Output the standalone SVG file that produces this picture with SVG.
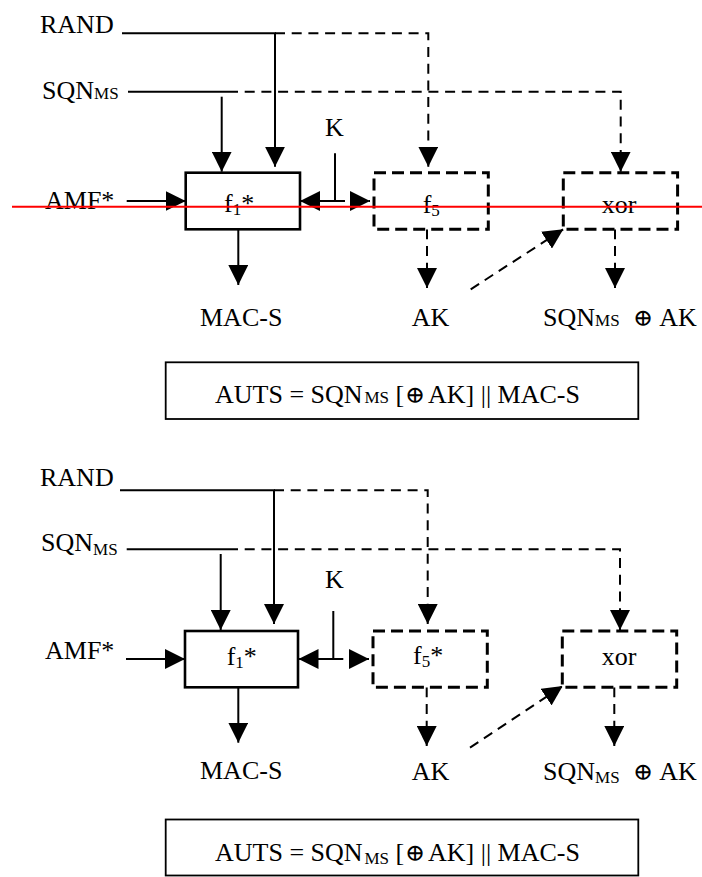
<svg xmlns="http://www.w3.org/2000/svg" width="702" height="877" viewBox="0 0 702 877">
<style>
text{font-family:"Liberation Serif","DejaVu Serif",serif;font-size:26px;fill:#000}
.sub{font-size:17px}
.op{font-family:"DejaVu Serif","Liberation Serif",serif;font-size:24px}
.c{fill:none;stroke:#000;stroke-width:2}
.d{stroke-dasharray:10 6.7}
.box{fill:#fff;stroke:#000;stroke-width:2.6}
.dbox{fill:#fff;stroke:#000;stroke-width:3;stroke-dasharray:12 6}
.res{fill:#fff;stroke:#000;stroke-width:1.8}
</style>
<defs>
<marker id="ah" viewBox="0 0 20 20" markerWidth="20" markerHeight="20" refX="20" refY="10" orient="auto" markerUnits="userSpaceOnUse"><path d="M0,0 L20,10 L0,20 Z" fill="#000"/></marker>
</defs>

<!-- TOP DIAGRAM -->
<g id="top-connectors">
<path class="c" d="M122,33.3 H275 V166.7" marker-end="url(#ah)"/>
<path class="c d" d="M275,33.3 H428.3 V166.7" marker-end="url(#ah)"/>
<path class="c" d="M128,91.7 H228"/>
<path class="c" d="M221.7,96.7 V171.7" marker-end="url(#ah)"/>
<path class="c d" d="M228,91.7 H620.7 V171.7" marker-end="url(#ah)"/>
<path class="c" d="M335,153.3 V201 H300" marker-end="url(#ah)"/>
<path class="c d" d="M335,201 H370" marker-end="url(#ah)"/>
<path class="c" d="M126.7,201 H185.7" marker-end="url(#ah)"/>
<path class="c" d="M238.3,229.3 V285" marker-end="url(#ah)"/>
<path class="c d" d="M427,229.3 V288" marker-end="url(#ah)"/>
<path class="c d" d="M615,229.3 V288" marker-end="url(#ah)"/>
<path class="c d" d="M470.7,289.3 L563.3,229.3" marker-end="url(#ah)"/>
</g>
<g id="top-rand"><text x="40" y="33.3">RAND</text></g>
<g id="top-sqn"><text x="42" y="99">SQN<tspan class="sub">MS</tspan></text></g>
<g id="top-k"><text x="325" y="136">K</text></g>
<g id="top-amf"><text x="45" y="208.5">AMF*</text></g>
<g id="top-f1"><rect class="box" x="185.7" y="172.7" width="114.3" height="56.6"/><text x="224" y="212">f<tspan class="sub" dy="3">1</tspan><tspan dy="-3">*</tspan></text></g>
<g id="top-f5"><rect class="dbox" x="374" y="172.7" width="114.3" height="56.6"/><text x="422.7" y="213">f<tspan class="sub" dy="3">5</tspan></text></g>
<g id="top-xor"><rect class="dbox" x="563.3" y="172.7" width="114.3" height="56.6"/><text x="601.7" y="213">xor</text></g>
<g id="top-macs"><text x="200" y="326">MAC-S</text></g>
<g id="top-ak"><text x="411.7" y="326">AK</text></g>
<g id="top-sqnak"><text x="543" y="326">SQN<tspan class="sub">MS</tspan><tspan class="op" x="633">⊕</tspan><tspan x="659.3">AK</tspan></text></g>
<g id="top-auts"><rect class="res" x="165.7" y="362.3" width="472.6" height="56.7"/><text x="215" y="402.7">AUTS = SQN<tspan class="sub" x="364.5">MS</tspan><tspan x="395.5">[</tspan><tspan class="op" x="405">⊕</tspan><tspan x="428">AK] || MAC-S</tspan></text></g>

<!-- BOTTOM DIAGRAM -->
<g id="bot-connectors">
<path class="c" d="M120,490.3 H274 V624" marker-end="url(#ah)"/>
<path class="c d" d="M274,490.3 H427.7 V624" marker-end="url(#ah)"/>
<path class="c" d="M126.7,549.3 H228"/>
<path class="c" d="M220.7,554 V630" marker-end="url(#ah)"/>
<path class="c d" d="M228,549.3 H620 V630" marker-end="url(#ah)"/>
<path class="c" d="M333.3,611 V659 H298.5" marker-end="url(#ah)"/>
<path class="c d" d="M333.3,659 H369" marker-end="url(#ah)"/>
<path class="c" d="M126,659 H185" marker-end="url(#ah)"/>
<path class="c" d="M238.3,687.3 V742.7" marker-end="url(#ah)"/>
<path class="c d" d="M426.7,687.3 V746" marker-end="url(#ah)"/>
<path class="c d" d="M614.3,687.3 V746" marker-end="url(#ah)"/>
<path class="c d" d="M470,747.7 L562.7,686" marker-end="url(#ah)"/>
</g>
<g id="bot-rand"><text x="40" y="485.7">RAND</text></g>
<g id="bot-sqn"><text x="41" y="551">SQN<tspan class="sub" dy="4">MS</tspan></text></g>
<g id="bot-k"><text x="325" y="588.3">K</text></g>
<g id="bot-amf"><text x="45" y="659">AMF*</text></g>
<g id="bot-f1"><rect class="box" x="185" y="631" width="113" height="56.3"/><text x="226.7" y="665">f<tspan class="sub" dy="3">1</tspan><tspan dy="-3">*</tspan></text></g>
<g id="bot-f5"><rect class="dbox" x="373" y="631" width="114.3" height="56.3"/><text x="413" y="664">f<tspan class="sub" dy="3">5</tspan><tspan dy="-3">*</tspan></text></g>
<g id="bot-xor"><rect class="dbox" x="562.3" y="631" width="114.4" height="56.3"/><text x="601.7" y="665">xor</text></g>
<g id="bot-macs"><text x="200" y="779">MAC-S</text></g>
<g id="bot-ak"><text x="411.7" y="780">AK</text></g>
<g id="bot-sqnak"><text x="543" y="780">SQN<tspan class="sub" dy="3">MS</tspan><tspan class="op" x="633" dy="-3">⊕</tspan><tspan x="659.3">AK</tspan></text></g>
<g id="bot-auts"><rect class="res" x="165.7" y="819.5" width="472.6" height="56"/><text x="215" y="861">AUTS = SQN<tspan class="sub" x="364.5" dy="3">MS</tspan><tspan x="395.5" dy="-3">[</tspan><tspan class="op" x="405">⊕</tspan><tspan x="428">AK] || MAC-S</tspan></text></g>

<!-- red line -->
<line x1="12" y1="206.7" x2="702" y2="206.7" stroke="#ff0000" stroke-width="2"/>
</svg>
